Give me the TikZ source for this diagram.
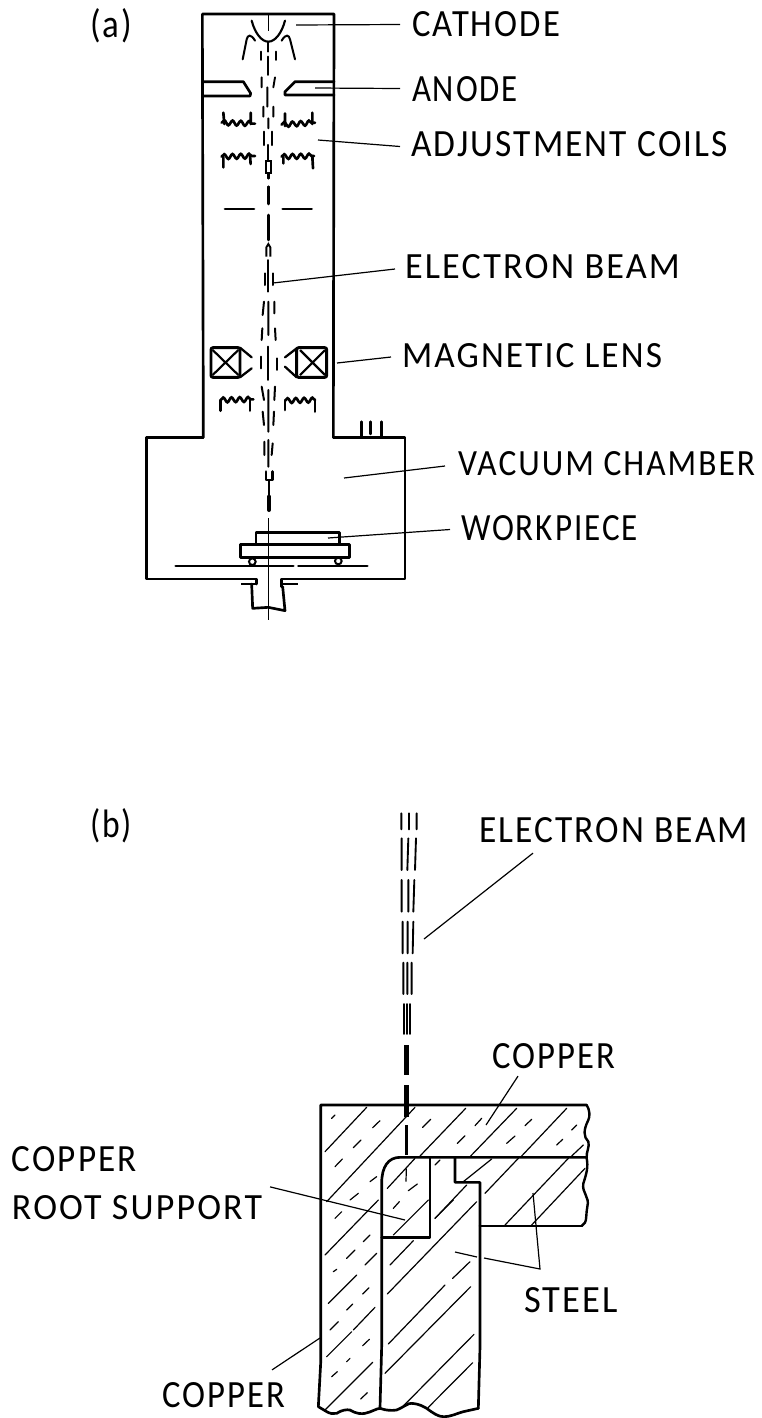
\documentclass[tikz,border=0pt]{standalone}
\usepackage{graphicx}
\usepackage{fontspec}
\setmainfont[LetterSpace=6]{Carlito}
\usetikzlibrary{calc,decorations.pathmorphing}
\newlength\pxu \setlength\pxu{0.75pt}
\tikzset{
  lab/.style={anchor=west,inner sep=0pt,outer sep=0pt,text=black},
  wall/.style={line width=2pt,line cap=round,line join=round},
  hatchl/.style={line width=0.9pt,line cap=round},
  leader/.style={line width=0.9pt},
  beam/.style={line width=1.4pt,line cap=round},
  coilstem/.style={line width=2pt,line cap=round},
  zoomA/.style={shift={(130,0)},x=0.25pt,y=-0.25pt},
  zoomB/.style={shift={(130,360)},x=0.25pt,y=-0.25pt},
  zoomC/.style={shift={(130,240)},x=0.25pt,y=-0.25pt},
  zoomD/.style={shift={(300,980)},x=0.25pt,y=-0.25pt},
  zoomE/.style={shift={(300,1200)},x=0.25pt,y=-0.25pt},
  zoomF/.style={shift={(380,770)},x=0.25pt,y=-0.25pt},
  coilw/.style={line width=2pt,line cap=round,decorate,decoration={snake,amplitude=1.8pt,segment length=6.2pt}},
}
% name, x1, y1, x2, y2, text
\newcommand\lbl[6]{%
  \pgfmathsetmacro\lw{#4-#2}\pgfmathsetmacro\lh{#5-#3}\pgfmathsetmacro\ly{(#3+#5)/2}%
  \node[lab] (#1) at (#2,\ly) {\resizebox{\lw\pxu}{\lh\pxu}{#6}};}
\begin{document}
\begin{tikzpicture}[x=0.75pt,y=-0.75pt]
\useasboundingbox (0,0) rectangle (762,1418);
\fill[white] (0,0) rectangle (762,1418);
% ---------- labels
\lbl{ta}{90}{11}{132}{40}{(a)}
\lbl{tb}{90}{811}{132}{840}{(b)}
\lbl{cathode}{412}{12}{560}{37}{CATHODE}
\lbl{anode}{412}{77}{518}{102}{ANODE}
\lbl{coils}{411}{132}{728}{157}{ADJUSTMENT COILS}
\lbl{beamA}{405}{255}{680}{279}{ELECTRON BEAM}
\lbl{lens}{402}{344}{662}{368}{MAGNETIC LENS}
\lbl{vac}{458}{452}{755}{476}{VACUUM CHAMBER}
\lbl{work}{461}{516}{638}{541}{WORKPIECE}
\lbl{beamB}{479}{818}{748}{843}{ELECTRON BEAM}
\lbl{cuTop}{492}{1044}{615}{1069}{COPPER}
\lbl{cuLeft}{12}{1147}{137}{1172}{COPPER}
\lbl{root}{12}{1196}{262}{1220}{ROOT SUPPORT}
\lbl{steel}{524}{1288}{618}{1313}{STEEL}
\lbl{cuBot}{162}{1383}{285}{1408}{COPPER}
% ---------- leaders
\coordinate (pCath) at (296,25);
\coordinate (pAnode) at (315,88);
\coordinate (pCoil) at (318,140);
\coordinate (pBeamA) at (273,283);
\coordinate (pLens) at (337,363);
\coordinate (pVac) at (344,478);
\coordinate (pWork) at (328,538);
\coordinate (pBeamB) at (424,939);
\coordinate (pCuTop) at (486,1125);
\coordinate (pRoot) at (405,1220);
\coordinate (pCuBot) at (320,1338);
\coordinate (pSteelJ) at (540,1269);
\coordinate (pSteelA) at (455,1252);
\coordinate (pSteelA2) at (477,1257);
\coordinate (pSteelC) at (484,1258);
\coordinate (pSteelB) at (533,1193);
\draw[leader] (pCath) -- ($(cathode.west)+(-12,0)$);
\draw[leader] (pAnode) -- ($(anode.west)+(-12,-1)$);
\draw[leader] (pCoil) -- ($(coils.west)+(-11,2)$);
\draw[leader] (pBeamA) -- ($(beamA.west)+(-10,2)$);
\draw[leader] (pLens) -- ($(lens.west)+(-11,1)$);
\draw[leader] (pVac) -- ($(vac.west)+(-13,2)$);
\draw[leader] (pWork) -- ($(work.west)+(-11,1)$);
\draw[leader] (pBeamB) -- ($(beamB.south west)+(54,10)$);
\draw[leader] (pCuTop) -- ($(cuTop.south west)+(26,7)$);
\draw[leader] (pRoot) -- ($(root.north east)+(8,-9)$);
\draw[leader] (pCuBot) -- ($(cuBot.north east)+(-13,-13)$);
\draw[leader] (pSteelA) -- (pSteelA2);
\draw[leader] (pSteelC) -- (pSteelJ) -- (pSteelB);
% ---------- (a) column and chamber
\begin{scope}[zoomA]
\draw[wall] (220,1311) -- (217,42) -- (612,42) -- (610,1311);
% cathode
\draw[line width=1.6pt,line cap=round] (365,62) .. controls (375,100) and (395,125) .. (415,125) .. controls (435,125) and (455,100) .. (465,62);
\draw[leader] (415,45) -- (415,92);
\draw[line width=1.5pt,line cap=round] (338,178) -- (350,118) .. controls (353,105) and (362,100) .. (375,122);
\draw[line width=1.5pt,line cap=round] (495,178) -- (480,118) .. controls (477,105) and (468,100) .. (455,122);
% anode
\draw[wall] (220,245) -- (340,245) -- (362,280) -- (360,288) -- (220,288);
\draw[wall] (612,245) -- (495,245) -- (465,275) -- (465,285) -- (612,285);
% axis and beam
\draw[beam] (415,125) -- (415,155) (415,170) -- (415,225) (392,155) -- (392,180) (438,155) -- (438,180);
\draw[beam] (395,232) -- (395,262) (435,232) -- (430,262) (412,262) -- (412,320) (400,320) -- (400,350) (430,320) -- (430,350) (415,355) -- (415,385);
\draw[line width=1.6pt,line cap=round] (403,395) -- (403,435) (425,395) -- (425,435) (415,435) -- (415,480);
\draw[line width=1.4pt] (409,482) rectangle (422,520);
\draw[line width=2pt,line cap=round] (415,522) -- (415,535) (415,560) -- (415,612) (415,645) -- (415,720);
% coils
\draw[coilw] (275,368) -- (375,371);
\draw[coilw] (455,374) -- (555,368);
\draw[coilstem] (280,338) -- (283,372) (362,338) -- (362,372) (465,340) -- (465,378) (547,338) -- (547,372);
\draw[coilw] (275,470) -- (375,468);
\draw[coilw] (455,470) -- (552,468);
\draw[coilstem] (280,470) -- (280,502) (360,468) -- (362,492) (460,470) -- (460,490) (547,468) -- (549,505);
% shields
\draw[wall] (285,627) -- (372,627) (458,627) -- (545,627);
\end{scope}
% ---------- electron beam mid, lens
\begin{scope}[zoomC]
\draw[line width=1.4pt] (409,50) -- (409,22) -- (415,12) -- (421,22) -- (421,50);
\draw[beam] (415,60) -- (415,155);
\draw[line width=1.5pt,line cap=round] (405,100) -- (405,135) (430,100) -- (430,135);
\draw[line width=1.5pt,line cap=round] (402,185) -- (398,225) (433,185) -- (433,220) (415,185) -- (415,285) (397,265) -- (395,300) (435,265) -- (437,300);
\draw[beam] (415,320) -- (415,420) (392,350) -- (392,385) (442,355) -- (442,390);
\draw[line width=2.2pt,rounded corners=1.5pt] (243,323) rectangle (330,412);
\draw[line width=1.6pt] (248,330) -- (325,405) (248,405) -- (325,330);
\draw[line width=1.7pt,line cap=round] (330,323) -- (365,352) (330,412) -- (365,385);
\draw[line width=2.2pt,rounded corners=1.5pt] (500,323) rectangle (590,412);
\draw[line width=1.6pt] (510,330) -- (585,405) (510,405) -- (585,330);
\draw[line width=1.7pt,line cap=round] (500,325) -- (465,352) (500,412) -- (465,380);
\end{scope}
\begin{scope}[zoomB]
% chamber outline
\draw[wall] (220,232) -- (50,232) -- (50,657) -- (380,657) -- (380,672);
\draw[wall] (610,232) -- (825,232) -- (825,657) -- (455,657) -- (455,680);
% stub
\draw[line width=1.5pt] (333,672) -- (380,672);
\draw[line width=1.5pt] (458,672) -- (505,672);
\draw[wall] (365,672) -- (368,745) -- (415,742) -- (465,752) -- (458,680);
% port
\draw[line width=1.8pt,line cap=round] (695,232) -- (695,185) (722,222) -- (722,185) (755,232) -- (755,185);
% coil
\draw[coilw] (272,120) -- (370,118);
\draw[coilw] (465,122) -- (555,120);
\draw[coilstem] (272,120) -- (272,152) (360,118) -- (360,152) (465,122) -- (465,150) (555,120) -- (555,155);
% beam
\draw[line width=1.5pt,line cap=round] (395,80) -- (402,120) (435,80) -- (433,120) (415,90) -- (415,215) (398,155) -- (402,195) (432,155) -- (430,195) (415,240) -- (415,320) (403,245) -- (403,285) (428,250) -- (425,285);
\draw[line width=2.2pt,line cap=round,line join=round] (408,335) -- (408,360) -- (428,360) -- (428,335);
\draw[line width=1.4pt] (417,360) -- (417,410);
\draw[line width=3pt,line cap=round] (417,410) -- (417,450);
% workpiece
\draw[wall] (378,550) -- (378,517) -- (628,517) -- (628,550);
\draw[wall] (332,553) rectangle (658,592);
\draw[line width=1.5pt] (367,605) circle[radius=10];
\draw[line width=1.5pt] (625,603) circle[radius=10];
\draw[wall] (137,618) -- (490,618) (505,618) -- (712,618);
\draw[leader] (415,475) -- (415,780);
\end{scope}
% ---------- (b) beam
\begin{scope}[zoomF]
\draw[line width=1.4pt,line cap=round]
  (64,130) -- (64,178) (87,130) -- (87,178) (110,130) -- (110,178)
  (65,205) -- (65,300) (85,205) -- (82,300) (108,205) -- (105,300)
  (65,330) -- (65,425) (85,330) -- (85,425) (103,330) -- (100,425)
  (68,455) -- (68,550) (83,455) -- (83,550) (100,455) -- (98,550)
  (70,578) -- (70,672) (82,578) -- (82,672) (95,578) -- (95,672);
\end{scope}
\begin{scope}[zoomD]
\draw[line width=1.4pt,line cap=round]
  (312,72) -- (312,162) (322,72) -- (322,162) (331,72) -- (331,162);
\draw[line width=3.4pt] (320,195) -- (320,285) (320,315) -- (320,410);
\draw[line width=2pt] (320,435) -- (320,525);
\draw[leader] (319,565) -- (318,605);
% outlines of the copper and the steel
\draw[wall] (860,532) -- (300,532) .. controls (265,532) and (245,560) .. (245,610) -- (245,1100) -- (240,1285);
\draw[wall] (390,532) -- (390,772) -- (245,772);
\draw[wall] (465,532) -- (465,607) -- (540,607) -- (540,1100) -- (535,1285);
\draw[wall] (540,738) -- (845,738);
\draw[wall] (55,1280) -- (62,1150) -- (62,375) -- (860,375);
% right broken edge
\draw[line width=1.8pt,line cap=round,line join=round] (860,375)
  .. controls (870,390) and (870,410) .. (865,420)
  .. controls (850,450) and (850,470) .. (865,485)
  .. controls (870,500) and (858,515) .. (860,535)
  .. controls (865,560) and (860,580) .. (850,610)
  .. controls (845,640) and (870,650) .. (862,680)
  .. controls (858,700) and (860,720) .. (855,728) -- (845,738);
% hatching of the top plate and left wall
\draw[hatchl]
  (75,515) -- (200,382)
  (80,665) -- (345,382)
  (360,528) -- (497,385)
  (512,528) -- (650,385)
  (665,528) -- (800,385)
  (815,528) -- (850,495)
  (95,415) -- (105,405)
  (218,443) -- (240,422)
  (160,503) -- (183,480)
  (105,560) -- (127,537)
  (368,442) -- (392,418)
  (472,490) -- (495,467)
  (525,437) -- (545,415)
  (620,490) -- (645,468)
  (675,437) -- (695,418)
  (770,495) -- (788,478)
  (815,450) -- (830,435)
  (150,660) -- (175,640)
  (210,605) -- (230,590);
% hatching of the root support
\draw[hatchl]
  (262,625) -- (345,535)
  (325,632) -- (352,612)
  (280,685) -- (298,665)
  (280,765) -- (385,660);
% hatching of the steel
\draw[hatchl]
  (405,555) -- (420,540)
  (405,715) -- (500,615)
  (262,942) -- (530,665)
  (490,605) -- (575,537)
  (555,640) -- (655,535)
  (615,735) -- (805,535)
  (695,735) -- (855,565);
\end{scope}
\begin{scope}[zoomE]
% broken bottom edge
\draw[wall] (55,620) -- (75,632) .. controls (90,642) and (100,642) .. (110,640) .. controls (125,630) and (140,628) .. (150,630) .. controls (170,642) and (185,642) .. (195,640) .. controls (215,636) and (230,625) .. (240,625) .. controls (260,632) and (275,632) .. (290,630) .. controls (310,622) and (325,608) .. (335,610) .. controls (360,612) and (370,620) .. (380,625) .. controls (400,640) and (415,650) .. (430,650) .. controls (455,650) and (470,640) .. (490,635) -- (535,625);
\draw[hatchl]
  (75,165) -- (235,0)
  (105,55) -- (125,35)
  (190,125) -- (210,105)
  (140,175) -- (165,150)
  (195,195) -- (230,160)
  (100,215) -- (110,208)
  (85,310) -- (170,225)
  (188,282) -- (207,263)
  (140,330) -- (158,312)
  (90,390) -- (115,365)
  (160,390) -- (225,322)
  (80,470) -- (155,395)
  (188,437) -- (208,418)
  (140,485) -- (150,475)
  (95,530) -- (112,515)
  (75,630) -- (218,487)
  (182,597) -- (202,578)
  (270,195) -- (340,122)
  (265,432) -- (435,255)
  (458,235) -- (510,185)
  (255,520) -- (512,260)
  (310,618) -- (522,403)
  (385,622) -- (518,488)
  (405,55) -- (460,0);
\end{scope}
\end{tikzpicture}
\end{document}
